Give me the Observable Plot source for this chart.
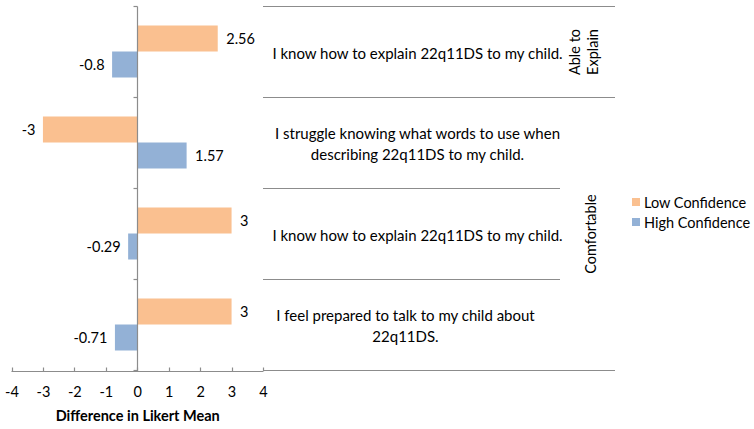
<!DOCTYPE html>
<html><head><meta charset="utf-8">
<script src="https://cdn.jsdelivr.net/npm/d3@7"></script>
<script src="https://cdn.jsdelivr.net/npm/@observablehq/plot@0.6"></script>
<style>
body{margin:0;background:#fff;}
#chart{position:relative;width:754px;height:429px;font-family:Lato,"Open Sans",sans-serif;}
#legend{position:absolute;left:632px;top:192px;font-size:14.5px;color:#000;}
#legend .item{display:flex;align-items:center;height:20px;}
#legend .sw{width:8px;height:8px;margin-right:4px;}
</style>
</head><body>
<div id="chart"></div>
<script>
const rowIds = ["Q1", "Q2", "Q3", "Q4"];
const statements = [
  "I know how to explain 22q11DS to my child.",
  "I struggle knowing what words to use when\ndescribing 22q11DS to my child.",
  "I know how to explain 22q11DS to my child.",
  "I feel prepared to talk to my child about\n22q11DS."
];
const seriesNames = ["Low Confidence", "High Confidence"];
const lowConfidence = [2.56, -3, 3, 3];
const highConfidence = [-0.8, 1.57, -0.29, -0.71];
const groupLabels = ["Able to\nExplain", "Comfortable"];
const groupRows = [["Q1"], ["Q2", "Q3", "Q4"]];
const xTicks = [-4, -3, -2, -1, 0, 1, 2, 3, 4];
const colors = ["#FAC090", "#93B1D6"];
const axisTitle = "Difference in Likert Mean";

const data = rowIds.flatMap((id, i) => [
  {id, series: seriesNames[0], value: lowConfidence[i]},
  {id, series: seriesNames[1], value: highConfidence[i]}
]);
const rows = rowIds.map((id, i) => ({id, label: statements[i]}));
const groups = groupLabels.map((label, i) => ({label, rows: groupRows[i], mid: groupRows[i][Math.floor(groupRows[i].length / 2)]}));

const gray = "#8c8c8c";
const innerRight = 560, outerRight = 615;
const crisp = v => Math.round(v) + 0.5;

function valueLabels(series, dy) {
  const r = data.filter(d => d.series === series);
  return [
    Plot.text(r.filter(d => d.value >= 0), {x: "value", y: "id", text: d => String(d.value), dy, dx: 8, textAnchor: "start", fontSize: 14.5, fill: "#000"}),
    Plot.text(r.filter(d => d.value < 0), {x: "value", y: "id", text: d => String(d.value), dy, dx: -8, textAnchor: "end", fontSize: 14.5, fill: "#000"})
  ];
}

function axesAndTable(index, scales, values, dimensions) {
  const y = scales.y, x = scales.x;
  const bw = typeof y.bandwidth === "function" ? y.bandwidth() : (y.bandwidth ?? (dimensions.height - dimensions.marginTop - dimensions.marginBottom) / rowIds.length);
  const left = dimensions.width - dimensions.marginRight;
  const bottom = dimensions.height - dimensions.marginBottom;
  const g = d3.create("svg:g").attr("fill", "none").attr("stroke", gray).attr("stroke-width", 1.2);
  const line = (x1, y1, x2, y2) => g.append("line").attr("x1", x1).attr("y1", y1).attr("x2", x2).attr("y2", y2);
  const x0 = crisp(x(0));
  const axisY = crisp(bottom + 1);
  const bounds = rowIds.map(id => crisp(y(id))).concat([crisp(y(rowIds[rowIds.length - 1]) + bw)]);
  // y axis line and ticks at band boundaries
  line(x0, bounds[0], x0, axisY);
  for (const b of bounds) line(x0 - 4, b, x0, b);
  // x axis line and ticks
  line(x(xTicks[0]), axisY, x(xTicks[xTicks.length - 1]), axisY);
  for (const t of xTicks) line(crisp(x(t)), axisY - 4, crisp(x(t)), axisY);
  // table lines
  const groupStarts = new Set(groups.map(gr => gr.rows[0]));
  rowIds.forEach((id, i) => line(left, bounds[i], groupStarts.has(id) ? outerRight : innerRight, bounds[i]));
  line(left, bounds[bounds.length - 1], outerRight, bounds[bounds.length - 1]);
  return g.node();
}

const plot = Plot.plot({
  width: 754,
  height: 429,
  marginLeft: 11.5,
  marginRight: 491,
  marginTop: 6,
  marginBottom: 59,
  style: {fontFamily: "Lato, 'Open Sans', sans-serif", fontSize: "14.5px", color: "#000", background: "#fff", overflow: "visible"},
  x: {domain: [-4, 4]},
  y: {domain: rowIds, padding: 0, axis: null},
  marks: [
    Plot.barX(data.filter(d => d.series === seriesNames[0]), {x: "value", y: "id", fill: colors[0], insetTop: 19.5, insetBottom: 45.5}),
    Plot.barX(data.filter(d => d.series === seriesNames[1]), {x: "value", y: "id", fill: colors[1], insetTop: 45.5, insetBottom: 19.5}),
    ...valueLabels(seriesNames[0], -13),
    ...valueLabels(seriesNames[1], 13),
    axesAndTable,
    Plot.axisX({ticks: xTicks, tickSize: 0, tickPadding: 16, tickFormat: d => String(d), label: null, fontSize: 14.5, fill: "#000"}),
    Plot.text([axisTitle], {text: d => d, frameAnchor: "bottom", dy: 50, fontWeight: "bold", fontSize: 14.5, fill: "#000"}),
    Plot.text(rows.filter(r => r.id !== "Q4"), {y: "id", text: "label", frameAnchor: "right", dx: 154, textAnchor: "middle", lineHeight: 1.36, fontSize: 15, fill: "#000"}),
    Plot.text(rows.filter(r => r.id === "Q4"), {y: "id", text: "label", frameAnchor: "right", dx: 142, textAnchor: "middle", lineHeight: 1.36, fontSize: 15, fill: "#000"}),
    Plot.text(groups.slice(0, 1), {y: "mid", text: "label", frameAnchor: "right", dx: 320, rotate: -90, textAnchor: "middle", lineHeight: 1.2, fontSize: 14.5, fill: "#000"}),
    Plot.text(groups.slice(1), {y: "mid", text: "label", frameAnchor: "right", dx: 327, rotate: -90, textAnchor: "middle", lineHeight: 1.2, fontSize: 14.5, fill: "#000"})
  ]
});

const chart = document.getElementById("chart");
chart.appendChild(plot);

const legend = document.createElement("div");
legend.id = "legend";
seriesNames.forEach((name, i) => {
  const item = document.createElement("div");
  item.className = "item";
  const sw = document.createElement("span");
  sw.className = "sw";
  sw.style.background = colors[i];
  const label = document.createElement("span");
  label.textContent = name;
  item.appendChild(sw);
  item.appendChild(label);
  legend.appendChild(item);
});
chart.appendChild(legend);
</script>
</body></html>
